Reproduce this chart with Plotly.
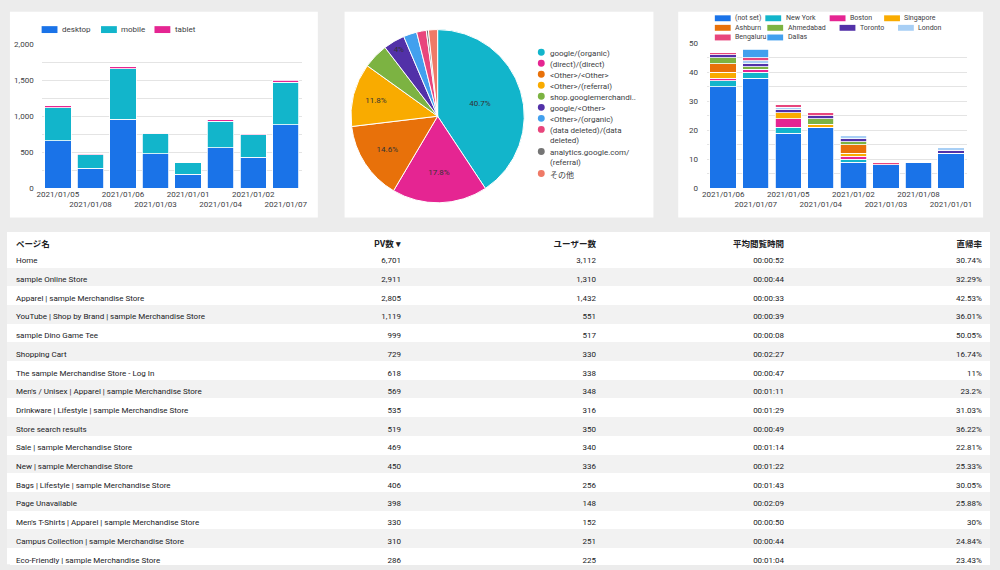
import plotly.graph_objects as go

W, H = 1000, 570
def fx(x): return x / W
def fy(y): return 1 - y / H

FONT = "Roboto, 'Noto Sans CJK JP', sans-serif"
TXT = "#3c4043"
GRID = "#e4e4e4"
BG = "#ececec"

# ---------------- data: device chart ----------------
device_dates = ["2021/01/05", "2021/01/08", "2021/01/06", "2021/01/03",
                "2021/01/01", "2021/01/04", "2021/01/02", "2021/01/07"]
device_names = ["desktop", "mobile", "tablet"]
desktop = [660, 275, 960, 475, 195, 560, 430, 880]
mobile = [460, 185, 700, 280, 157, 367, 315, 595]
tablet = [25, 15, 30, 8, 3, 22, 8, 25]
device_colors = ["#1a73e8", "#12b5cb", "#e52592"]

# ---------------- data: source pie ----------------
source_labels = ["google/(organic)", "(direct)/(direct)", "<Other>/<Other>",
                 "<Other>/(referral)", "shop.googlemerchandi..", "google/<Other>",
                 "<Other>/(organic)", "(data deleted)/(data deleted)",
                 "analytics.google.com/(referral)", "その他"]
source_legend = ["google/(organic)", "(direct)/(direct)", "<Other>/<Other>",
                 "<Other>/(referral)", "shop.googlemerchandi..", "google/<Other>",
                 "<Other>/(organic)", "(data deleted)/(data|deleted)",
                 "analytics.google.com/|(referral)", "その他"]
source_share = [40.7, 17.8, 14.6, 11.8, 4.7, 4.0, 2.5, 1.8, 0.4, 1.7]
source_label_shown = [True, True, True, True, False, True, False, False, False, False]
source_colors = ["#12b5cb", "#e52592", "#e8710a", "#f9ab00", "#7cb342",
                 "#5231a8", "#42a0ee", "#e8457c", "#757575", "#ef7a67"]

# ---------------- data: city chart ----------------
city_dates = ["2021/01/06", "2021/01/07", "2021/01/05", "2021/01/04",
              "2021/01/02", "2021/01/03", "2021/01/08", "2021/01/01"]
city_names = ["(not set)", "New York", "Boston", "Singapore", "Ashburn",
              "Ahmedabad", "Toronto", "London", "Bengaluru", "Dallas"]
not_set = [35, 38, 19, 21, 9, 8, 9, 12]
new_york = [2, 2, 2, 0, 1, 0, 0, 0]
boston = [1, 1, 3, 0, 1, 0, 0, 0]
singapore = [2, 0, 2, 1, 1, 0, 0, 0]
ashburn = [3, 0, 0, 0, 3, 0, 0, 0]
ahmedabad = [2, 1, 0, 2, 1, 0, 0, 0]
toronto = [1, 1, 1, 1, 1, 0, 0, 1]
london = [0, 1, 1, 0, 1, 0, 0, 1]
bengaluru = [1, 1, 1, 1, 0, 1, 0, 0]
dallas = [0, 3, 0, 0, 0, 0, 0, 0]
city_values = [not_set, new_york, boston, singapore, ashburn, ahmedabad,
               toronto, london, bengaluru, dallas]
city_colors = ["#1a73e8", "#12b5cb", "#e52592", "#f9ab00", "#e8710a",
               "#7cb342", "#5231a8", "#a8cff5", "#e8457c", "#42a0ee"]

# ---------------- data: table ----------------
page_names = ["Home", "sample Online Store", "Apparel | sample Merchandise Store",
              "YouTube | Shop by Brand | sample Merchandise Store", "sample Dino Game Tee",
              "Shopping Cart", "The sample Merchandise Store - Log In",
              "Men's / Unisex | Apparel | sample Merchandise Store",
              "Drinkware | Lifestyle | sample Merchandise Store", "Store search results",
              "Sale | sample Merchandise Store", "New | sample Merchandise Store",
              "Bags | Lifestyle | sample Merchandise Store", "Page Unavailable",
              "Men's T-Shirts | Apparel | sample Merchandise Store",
              "Campus Collection | sample Merchandise Store",
              "Eco-Friendly | sample Merchandise Store"]
page_views = [6701, 2911, 2805, 1119, 999, 729, 618, 569, 535, 519, 469, 450, 406, 398, 330, 310, 286]
users = [3112, 1310, 1432, 551, 517, 330, 338, 348, 316, 350, 340, 336, 256, 148, 152, 251, 225]
avg_seconds = [52, 44, 33, 39, 8, 147, 47, 71, 89, 49, 74, 82, 103, 129, 50, 44, 64]
bounce_rate = [30.74, 32.29, 42.53, 36.01, 50.05, 16.74, 11, 23.2, 31.03, 36.22,
               22.81, 25.33, 30.05, 25.88, 30, 24.84, 23.43]
table_headers = ["ページ名", "PV数 ▾", "ユーザー数", "平均閲覧時間", "直帰率"]


def stagger(labels):
    return [t if i % 2 == 0 else "<br>" + t for i, t in enumerate(labels)]


def esc(s):
    return s.replace("<", "&lt;").replace(">", "&gt;")


fig = go.Figure()

for name, vals, col in zip(device_names, [desktop, mobile, tablet], device_colors):
    fig.add_trace(go.Bar(x=device_dates, y=vals, name=name, xaxis="x", yaxis="y",
                         marker=dict(color=col, line=dict(color="white", width=0.8)),
                         showlegend=False))

for name, vals, col in zip(city_names, city_values, city_colors):
    fig.add_trace(go.Bar(x=city_dates, y=vals, name=name, xaxis="x2", yaxis="y2",
                         marker=dict(color=col, line=dict(color="white", width=0.8)),
                         showlegend=False))

total_share = sum(source_share)
pie_text = [f"{round(v / total_share * 100, 1):g}%" if s else ""
            for v, s in zip(source_share, source_label_shown)]
fig.add_trace(go.Pie(labels=source_labels, values=source_share, text=pie_text,
                     textinfo="text", textposition="inside",
                     insidetextorientation="horizontal",
                     textfont=dict(family=FONT, size=8, color="#333333"),
                     marker=dict(colors=source_colors, line=dict(color="white", width=1)),
                     sort=False, direction="clockwise", rotation=0,
                     domain=dict(x=[fx(349), fx(525)], y=[fy(202), fy(26)]),
                     showlegend=False))

# table
row_fill = ["white" if i % 2 == 0 else "#f2f2f2" for i in range(len(page_names))]
fmt_time = [f"{s // 3600:02d}:{(s % 3600) // 60:02d}:{s % 60:02d}" for s in avg_seconds]
fig.add_trace(go.Table(
    domain=dict(x=[fx(3), fx(995)], y=[0, fy(232)]),
    columnwidth=[300, 105, 197, 190, 200],
    header=dict(values=table_headers, align=["left", "right", "right", "right", "right"],
                fill_color="white", line=dict(color="white", width=1),
                font=dict(family=FONT, size=8.5, color="#202124", weight="bold"), height=17),
    cells=dict(values=[page_names,
                       [f"{v:,}" for v in page_views],
                       [f"{v:,}" for v in users],
                       fmt_time,
                       [f"{v:g}%" for v in bounce_rate]],
               align=["left", "right", "right", "right", "right"],
               fill_color=[row_fill] * 5, line=dict(color=[row_fill] * 5, width=1),
               font=dict(family=FONT, size=8, color="#202124"), height=18.7)))

shapes = []
annotations = []

# panels
for x0, y0, x1, y1 in [(5, 8, 316, 217), (343, 8, 655, 217), (680, 8, 988, 217), (5, 233, 995, 570)]:
    shapes.append(dict(type="rect", xref="paper", yref="paper", x0=fx(x0), x1=fx(x1),
                       y0=fy(y1), y1=fy(y0), fillcolor="white", line=dict(width=0),
                       layer="below"))


def rect_legend(names, colors, xs, ys, w=16, h=7, size=8):
    for n, c, x, y in zip(names, colors, xs, ys):
        shapes.append(dict(type="rect", xref="paper", yref="paper", x0=fx(x), x1=fx(x + w),
                           y0=fy(y + h / 2), y1=fy(y - h / 2), fillcolor=c, line=dict(width=0)))
        annotations.append(dict(xref="paper", yref="paper", x=fx(x + w + 2.5), y=fy(y),
                                text=esc(n), showarrow=False, xanchor="left", yanchor="middle",
                                font=dict(family=FONT, size=size, color=TXT)))


rect_legend(device_names, device_colors, [37, 97, 151], [26, 26, 26])
rect_legend(city_names, city_colors,
            [717, 768, 833, 888, 717, 770, 843, 902, 717, 770],
            [14.5, 14.5, 14.5, 14.5, 24.2, 24.2, 24.2, 24.2, 34, 34], h=6, size=7)

# pie legend
line_i = 0
for name, col in zip(source_legend, source_colors):
    y = 49 + 11.2 * line_i
    shapes.append(dict(type="circle", xref="paper", yref="paper", x0=fx(538.2), x1=fx(545.2),
                       y0=fy(y + 3.5), y1=fy(y - 3.5), fillcolor=col, line=dict(width=0)))
    parts = name.split("|")
    annotations.append(dict(xref="paper", yref="paper", x=fx(548), y=fy(y - 5.6),
                            text="<br>".join(esc(p) for p in parts), showarrow=False,
                            xanchor="left", yanchor="top", align="left",
                            font=dict(family=FONT, size=8, color=TXT)))
    line_i += len(parts)

axis_font = dict(family=FONT, size=8, color=TXT)
fig.update_layout(
    width=W, height=H, autosize=False,
    margin=dict(l=0, r=0, t=0, b=0),
    paper_bgcolor=BG, plot_bgcolor="rgba(0,0,0,0)",
    barmode="stack", bargap=0.19,
    font=dict(family=FONT, size=8, color=TXT),
    xaxis=dict(domain=[fx(37), fx(300)], anchor="y", type="category",
               tickvals=device_dates, ticktext=stagger(device_dates), tickfont=axis_font,
               tickangle=0, showgrid=False, zeroline=False, showline=False, ticks=""),
    yaxis=dict(domain=[fy(187), fy(41)], anchor="x", range=[0, 2000], dtick=500, tick0=0,
               tickformat=",", gridcolor=GRID, zeroline=False, showline=False,
               minor=dict(dtick=250, showgrid=True, gridcolor=GRID),
               tickfont=axis_font, ticklabelstandoff=7),
    xaxis2=dict(domain=[fx(709), fx(972)], anchor="y2", type="category",
                tickvals=city_dates, ticktext=stagger(city_dates), tickfont=axis_font,
                tickangle=0, showgrid=False, zeroline=False, showline=False, ticks=""),
    yaxis2=dict(domain=[fy(187), fy(40)], anchor="x2", range=[0, 50], dtick=10, tick0=0,
                gridcolor=GRID, zeroline=False, showline=False,
                minor=dict(dtick=5, showgrid=True, gridcolor=GRID),
                tickfont=axis_font, ticklabelstandoff=8),
    shapes=shapes, annotations=annotations,
)

fig.write_html("out.html", config={"displayModeBar": False},
               post_script="document.body.style.margin='0';")
